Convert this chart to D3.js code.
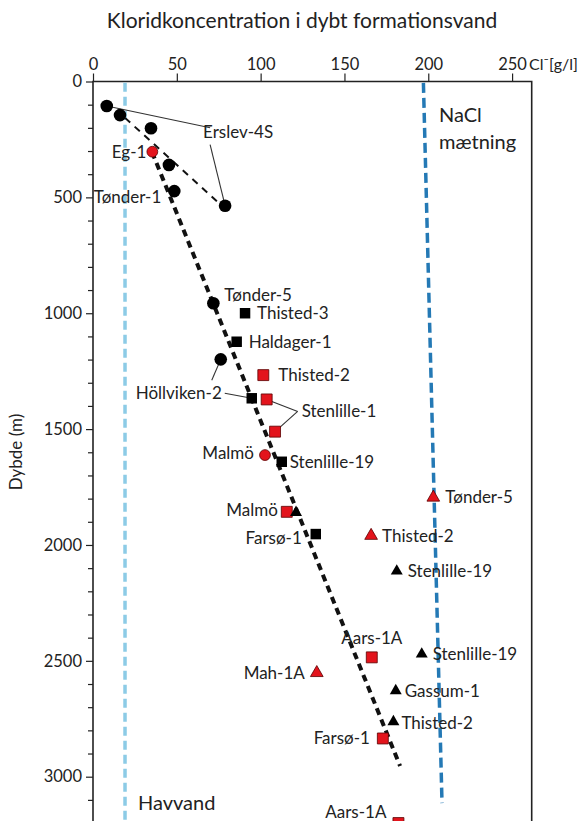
<!DOCTYPE html>
<html>
<head>
<meta charset="utf-8" />
<title>Kloridkoncentration</title>
<script src="https://d3js.org/d3.v7.min.js"></script>
<style type="text/css">
    body { margin: 0; background: #fff; }
    text { font-family: Lato, "Open Sans", sans-serif; fill: #222; }
    .tick text { font-size: 16.5px; }
    .lbl { font-size: 17px; }
</style>
</head>
<body>
<script>
// ---- data ----
var xTicks = [0, 50, 100, 150, 200, 250];
var yMajor = [0, 500, 1000, 1500, 2000, 2500, 3000];

var wellName = ['Erslev-4S', 'Erslev-4S', 'Erslev-4S', 'Eg-1', 'Erslev-4S', 'Tønder-1', 'Erslev-4S',
    'Tønder-5', 'Thisted-3', 'Haldager-1', 'Höllviken-2', 'Thisted-2', 'Höllviken-2', 'Stenlille-1',
    'Stenlille-1', 'Malmö', 'Stenlille-19', 'Malmö', 'Malmö', 'Farsø-1', 'Tønder-5', 'Thisted-2',
    'Stenlille-19', 'Aars-1A', 'Stenlille-19', 'Mah-1A', 'Gassum-1', 'Thisted-2', 'Farsø-1', 'Aars-1A'];
var chloride = [8.2, 16.1, 34.6, 35.4, 45.3, 48.5, 78.8,
    71.8, 90.7, 85.7, 76.2, 101.6, 94.7, 103.6,
    108.6, 102.6, 112.6, 115.6, 121.1, 132.9, 203, 165.9,
    181.2, 166.3, 196.1, 133.5, 180.6, 179.2, 172.9, 182.2];
var depth = [106, 145, 202, 303, 360, 473, 536,
    957, 1000, 1123, 1199, 1267, 1367, 1372,
    1511, 1612, 1641, 1857, 1860, 1953, 1795, 1960,
    2113, 2485, 2471, 2552, 2629, 2763, 2835, 3200];
var marker = ['c', 'c', 'c', 'c', 'c', 'c', 'c',
    'c', 's', 's', 'c', 's', 's', 's',
    's', 'c', 's', 's', 't', 's', 't', 't',
    't', 's', 't', 't', 't', 't', 's', 's'];
var isRed = [0, 0, 0, 1, 0, 0, 0,
    0, 0, 0, 0, 1, 0, 1,
    1, 1, 0, 1, 0, 0, 1, 1,
    0, 1, 0, 1, 0, 0, 1, 1];

// trend lines and reference lines (chloride, depth)
var erslevTrend = [[19.1, 157], [81.7, 568]];
var mainTrend = [[35.2, 304], [183.2, 2954]];
var seawater = [[19.1, 5], [19.1, 3250]];
var naclSat = [[197.1, 6], [208.2, 3114]];

// ---- layout ----
var W = 587, H = 821;
var red = '#e3141c';

var x = d3.scaleLinear().domain([0, 261.7]).range([93, 531.7]);
var y = d3.scaleLinear().domain([0, 3000]).range([81.5, 776.7]);

var svg = d3.select('body').append('svg')
    .attr('width', W)
    .attr('height', H);

svg.append('text')
    .attr('x', 302).attr('y', 28)
    .attr('text-anchor', 'middle')
    .style('font-size', '21px')
    .text('Kloridkoncentration i dybt formationsvand');

// axes
var axTop = d3.axisTop(x).tickValues(xTicks).tickSize(8).tickPadding(4);
var gTop = svg.append('g').attr('transform', `translate(0,${y(0)})`).call(axTop);
gTop.select('.domain').remove();

var axLeft = d3.axisLeft(y)
    .tickValues(d3.range(0, 3300, 100))
    .tickFormat(d => yMajor.indexOf(d) >= 0 ? d : '')
    .tickSize(7).tickPadding(4);
var gLeft = svg.append('g').attr('transform', `translate(${x(0)},0)`).call(axLeft);
gLeft.select('.domain').remove();
gLeft.selectAll('.tick line').attr('x2', d => yMajor.indexOf(d) >= 0 ? -7 : -5);
svg.selectAll('.tick line').attr('stroke', '#222').attr('stroke-width', 1.2);

// cl unit after 250
svg.append('text')
    .attr('x', x(250) + 17).attr('y', y(0) - 12)
    .style('font-size', '16px')
    .text('Cl⁻[g/l]');

svg.append('text')
    .attr('transform', `translate(22,452) rotate(-90)`)
    .attr('text-anchor', 'middle')
    .style('font-size', '17px')
    .text('Dybde (m)');

// frame
svg.append('path')
    .attr('d', `M${x(0)},${y(3250)}V${y(0)}H${x(261.7)}V${y(3250)}`)
    .attr('fill', 'none').attr('stroke', '#222').attr('stroke-width', 1.6);

var line = d3.line().x(d => x(d[0])).y(d => y(d[1]));

svg.append('path').attr('d', line(seawater))
    .attr('fill', 'none').attr('stroke', '#8ccbe6').attr('stroke-width', 3.5)
    .attr('stroke-dasharray', '9,5');
svg.append('path').attr('d', line(naclSat))
    .attr('fill', 'none').attr('stroke', '#2479b5').attr('stroke-width', 3.5)
    .attr('stroke-dasharray', '10,5');

svg.append('path').attr('d', line(erslevTrend))
    .attr('fill', 'none').attr('stroke', '#111').attr('stroke-width', 2)
    .attr('stroke-dasharray', '7,6');
svg.append('path').attr('d', line(mainTrend))
    .attr('fill', 'none').attr('stroke', '#111').attr('stroke-width', 4)
    .attr('stroke-dasharray', '7,5');

svg.append('text').attr('x', 138).attr('y', 803).attr('dy', '0.35em')
    .style('font-size', '20px').text('Havvand');
svg.append('text').attr('x', 439).attr('y', 115).attr('dy', '0.35em')
    .style('font-size', '20px').text('NaCl');
svg.append('text').attr('x', 439).attr('y', 142).attr('dy', '0.35em')
    .style('font-size', '20px').text('mætning');

// ---- point labels: [point index, dx, dy, anchor] in pixels ----
var labelPos = [
    [6, -22, -74, 'start'],
    [3, -6, 0, 'end'],
    [5, -13, 6, 'end'],
    [7, 11, -8, 'start'],
    [8, 12, 0, 'start'],
    [9, 12, 0, 'start'],
    [11, 15, 0, 'start'],
    [12, -30, -5, 'end'],
    [13, 35, 12, 'start'],
    [15, -11, -2, 'end'],
    [16, 8, 0, 'start'],
    [17, -9, -2, 'end'],
    [19, -14, 4, 'end'],
    [20, 12, 0, 'start'],
    [21, 11, 0, 'start'],
    [22, 11, 0, 'start'],
    [23, 0, -19, 'middle'],
    [24, 11, 0, 'start'],
    [25, -12, 0, 'end'],
    [26, 9, 0, 'start'],
    [27, 8, 1, 'start'],
    [28, -13, 0, 'end'],
    [29, -12, -11, 'end']
];

// leader lines: [from point, to point, label offset from "from" point]
var leaders = [
    [6, 0, -15, -78],
    [6, 6, -15, -61],
    [12, 12, -27, -5],
    [12, 10, -40, -18],
    [13, 13, 31, 12],
    [13, 14, 31, 12]
];

var px = i => x(chloride[i]), py = i => y(depth[i]);

svg.append('g').selectAll('line')
    .data(leaders).enter().append('line')
    .attr('x1', d => px(d[0]) + d[2])
    .attr('y1', d => py(d[0]) + d[3])
    .attr('x2', d => px(d[1]))
    .attr('y2', d => py(d[1]))
    .attr('stroke', '#333').attr('stroke-width', 1.1);

var symbols = { c: d3.symbolCircle, s: d3.symbolSquare, t: d3.symbolTriangle };
var sizes = { c: 125, s: 110, t: 62 };
var redSizes = { c: 92, s: 120, t: 70 };

svg.append('g').selectAll('path')
    .data(d3.range(wellName.length)).enter().append('path')
    .attr('transform', i => `translate(${px(i)},${py(i)})`)
    .attr('d', i => d3.symbol().type(symbols[marker[i]]).size(isRed[i] ? redSizes[marker[i]] : sizes[marker[i]])())
    .attr('fill', i => isRed[i] ? red : '#000')
    .attr('stroke', i => isRed[i] ? '#5a0000' : 'none')
    .attr('stroke-width', 0.8);

svg.append('g').selectAll('text')
    .data(labelPos).enter().append('text')
    .attr('class', 'lbl')
    .attr('x', d => px(d[0]) + d[1])
    .attr('y', d => py(d[0]) + d[2])
    .attr('dy', '0.35em')
    .attr('text-anchor', d => d[3])
    .text(d => wellName[d[0]]);
</script>
</body>
</html>
